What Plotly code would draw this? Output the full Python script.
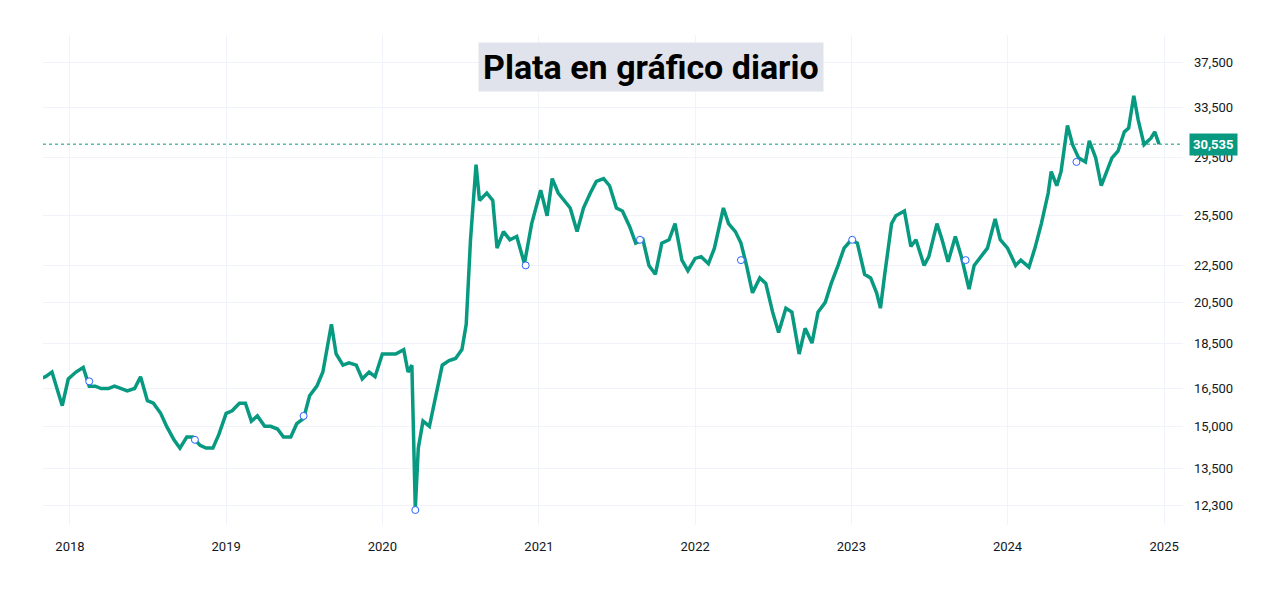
import math
import plotly.graph_objects as go

# silver daily close (x1000)
dates = [
    "2017-10-05", "2017-10-20", "2017-11-05", "2017-11-20", "2017-12-05", "2017-12-14", "2017-12-28",
    "2018-01-15", "2018-02-01", "2018-02-15", "2018-03-01", "2018-03-15", "2018-04-01", "2018-04-15",
    "2018-05-01", "2018-05-15", "2018-06-01", "2018-06-15", "2018-07-01", "2018-07-15", "2018-08-01",
    "2018-08-15", "2018-09-01", "2018-09-15", "2018-10-01", "2018-10-15", "2018-11-01", "2018-11-15",
    "2018-12-01", "2018-12-15", "2019-01-01", "2019-01-15", "2019-02-01", "2019-02-15", "2019-03-01",
    "2019-03-15", "2019-04-01", "2019-04-15", "2019-05-01", "2019-05-15", "2019-06-01", "2019-06-15",
    "2019-07-01", "2019-07-15", "2019-08-01", "2019-08-15", "2019-09-04", "2019-09-15", "2019-10-01",
    "2019-10-15", "2019-11-01", "2019-11-15", "2019-12-01", "2019-12-15", "2020-01-01", "2020-01-15",
    "2020-02-01", "2020-02-20", "2020-03-01", "2020-03-10", "2020-03-18", "2020-03-25", "2020-04-05",
    "2020-04-20", "2020-05-05", "2020-05-20", "2020-06-05", "2020-06-20", "2020-07-05", "2020-07-15",
    "2020-07-25", "2020-08-07", "2020-08-15", "2020-09-01", "2020-09-15", "2020-09-25", "2020-10-10",
    "2020-10-25", "2020-11-10", "2020-11-28", "2020-12-15", "2021-01-05", "2021-01-20", "2021-02-01",
    "2021-02-15", "2021-03-01", "2021-03-15", "2021-03-31", "2021-04-15", "2021-05-01", "2021-05-15",
    "2021-06-01", "2021-06-15", "2021-07-01", "2021-07-15", "2021-08-01", "2021-08-15", "2021-09-01",
    "2021-09-15", "2021-09-30", "2021-10-15", "2021-11-01", "2021-11-15", "2021-12-01", "2021-12-15",
    "2022-01-01", "2022-01-15", "2022-02-01", "2022-02-15", "2022-03-08", "2022-03-20", "2022-04-05",
    "2022-04-18", "2022-05-01", "2022-05-15", "2022-06-01", "2022-06-15", "2022-07-01", "2022-07-15",
    "2022-08-01", "2022-08-15", "2022-09-01", "2022-09-15", "2022-10-01", "2022-10-15", "2022-11-01",
    "2022-11-15", "2022-12-01", "2022-12-15", "2023-01-01", "2023-01-15", "2023-02-01", "2023-02-15",
    "2023-03-01", "2023-03-10", "2023-03-20", "2023-04-05", "2023-04-15", "2023-05-05", "2023-05-20",
    "2023-06-01", "2023-06-20", "2023-07-01", "2023-07-20", "2023-08-01", "2023-08-15", "2023-09-01",
    "2023-09-15", "2023-10-03", "2023-10-15", "2023-11-01", "2023-11-15", "2023-12-03", "2023-12-15",
    "2024-01-01", "2024-01-20", "2024-02-01", "2024-02-20", "2024-03-05", "2024-03-20", "2024-04-05",
    "2024-04-12", "2024-04-25", "2024-05-05", "2024-05-20", "2024-06-01", "2024-06-15", "2024-07-01",
    "2024-07-10", "2024-07-25", "2024-08-07", "2024-08-20", "2024-09-01", "2024-09-15", "2024-09-30",
    "2024-10-10", "2024-10-22", "2024-11-01", "2024-11-15", "2024-12-01", "2024-12-10", "2024-12-20",
]
prices = [
    17.2, 16.9, 17.0, 17.2, 16.3, 15.8, 16.9,
    17.2, 17.4, 16.6, 16.6, 16.5, 16.5, 16.6,
    16.5, 16.4, 16.5, 17.0, 16.0, 15.9, 15.5,
    15.0, 14.5, 14.2, 14.6, 14.6, 14.3, 14.2,
    14.2, 14.7, 15.5, 15.6, 15.9, 15.9, 15.2,
    15.4, 15.0, 15.0, 14.9, 14.6, 14.6, 15.1,
    15.3, 16.2, 16.6, 17.2, 19.4, 18.0, 17.5,
    17.6, 17.5, 16.9, 17.2, 17.0, 18.0, 18.0,
    18.0, 18.2, 17.2, 17.5, 12.2, 14.2, 15.2,
    15.0, 16.2, 17.5, 17.7, 17.8, 18.2, 19.4,
    24.0, 29.0, 26.5, 27.0, 26.5, 23.5, 24.5,
    24.0, 24.2, 22.6, 25.0, 27.2, 25.5, 28.0,
    27.0, 26.5, 26.0, 24.5, 26.0, 27.0, 27.8,
    28.0, 27.5, 26.0, 25.8, 24.8, 23.8, 24.0,
    22.5, 22.0, 23.8, 24.0, 25.0, 22.8, 22.2,
    22.9, 23.0, 22.6, 23.5, 26.0, 25.0, 24.5,
    23.8, 22.5, 21.0, 21.8, 21.5, 20.0, 19.0,
    20.2, 20.0, 18.0, 19.2, 18.5, 20.0, 20.5,
    21.5, 22.5, 23.5, 24.0, 23.8, 22.0, 21.8,
    21.0, 20.2, 22.0, 25.0, 25.5, 25.8, 23.6,
    24.0, 22.5, 23.0, 25.0, 24.0, 22.7, 24.2,
    23.0, 21.2, 22.5, 23.0, 23.5, 25.3, 24.0,
    23.5, 22.5, 22.8, 22.4, 23.5, 25.0, 27.0,
    28.5, 27.5, 28.5, 32.0, 30.5, 29.5, 29.2,
    30.8, 29.5, 27.5, 28.5, 29.5, 30.0, 31.5,
    31.8, 34.5, 32.5, 30.5, 31.0, 31.5, 30.535,
]
# event markers (dividends/news style dots)
event_dates = ["2018-02-15", "2018-10-20", "2019-07-01", "2020-03-18", "2020-12-01",
               "2021-08-25", "2022-04-18", "2023-01-03", "2023-09-25", "2024-06-10"]
event_prices = [16.8, 14.5, 15.4, 12.15, 22.5, 24.0, 22.8, 24.0, 22.8, 29.2]

values = [p * 1000 for p in prices]
event_values = [p * 1000 for p in event_prices]
last = values[-1]
yticks = [12300, 13500, 15000, 16500, 18500, 20500, 22500, 25500, 29500, 33500, 37500]

fig = go.Figure()
fig.add_trace(go.Scatter(x=dates, y=values, mode="lines",
                         line=dict(color="#089981", width=3.5), hoverinfo="skip"))
fig.add_trace(go.Scatter(x=event_dates, y=event_values, mode="markers",
                         marker=dict(size=7, color="white", line=dict(color="#2962ff", width=1))))
fig.add_hline(y=last, line=dict(color="#089981", width=1, dash="dot"))

fig.update_layout(
    width=1262, height=592, showlegend=False,
    paper_bgcolor="white", plot_bgcolor="white",
    margin=dict(l=35, r=87, t=27, b=75),
    font=dict(family="Roboto, Noto Sans, sans-serif", size=13, color="#131722"),
    xaxis=dict(type="date", range=["2017-10-30", "2025-02-14"], showgrid=True, gridcolor="#f0f3fa",
               tickvals=["2018-01-01", "2019-01-01", "2020-01-01", "2021-01-01", "2022-01-01",
                         "2023-01-01", "2024-01-01", "2025-01-01"],
               ticktext=["2018", "2019", "2020", "2021", "2022", "2023", "2024", "2025"],
               ticks="", zeroline=False, showline=False, ticklabelstandoff=12),
    yaxis=dict(type="log", side="right", range=[math.log10(11700), math.log10(40200)],
               tickvals=yticks, ticktext=[f"{v:,}" for v in yticks],
               showgrid=True, gridcolor="#f0f3fa", ticks="", zeroline=False, ticklabelstandoff=10),
    annotations=[
        dict(text="<b>Plata en gráfico diario</b>", xref="paper", yref="paper", x=0.533, y=0.985,
             xanchor="center", yanchor="top", showarrow=False, bgcolor="#e0e3eb",
             font=dict(size=34, color="#000000", family="Roboto, sans-serif"), borderpad=4),
        dict(text="<b>30,535</b>", xref="paper", yref="y", x=1.005, y=math.log10(last),
             xanchor="left", showarrow=False, bgcolor="#089981",
             font=dict(size=13, color="white"), borderpad=3),
    ],
)
fig.write_html("out.html")
